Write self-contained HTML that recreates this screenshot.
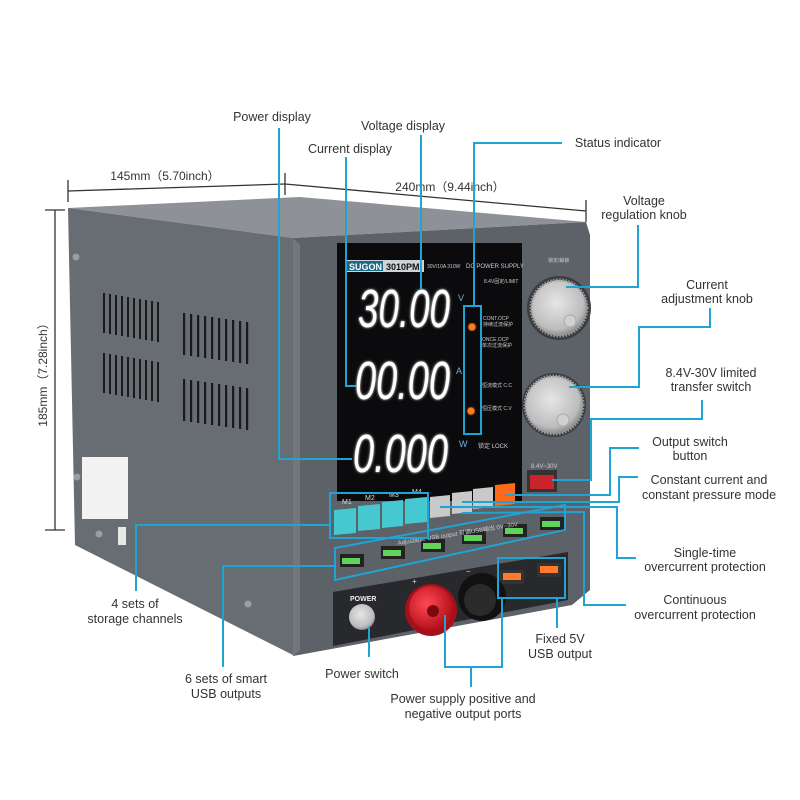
<!DOCTYPE html>
<html><head><meta charset="utf-8"><style>
html,body{margin:0;padding:0;background:#fff;}
svg{display:block;}
.t{font-family:"Liberation Sans","DejaVu Sans",sans-serif;font-size:12.5px;fill:#333;text-anchor:middle;}
.c{stroke:#1fa4d4;stroke-width:2;fill:none;}
.d{font-family:"Liberation Sans",sans-serif;font-style:italic;fill:#fff;font-weight:normal;}
.s{font-family:"Liberation Sans",sans-serif;fill:#ccc;font-size:5px;}
</style></head><body>
<svg width="800" height="800" viewBox="0 0 800 800" xmlns="http://www.w3.org/2000/svg">
<defs>
<filter id="g"><feGaussianBlur stdDeviation="1.2" result="b"/><feMerge><feMergeNode in="b"/><feMergeNode in="SourceGraphic"/></feMerge></filter>
<radialGradient id="kn" cx="0.45" cy="0.4" r="0.6"><stop offset="0" stop-color="#e6e6e6"/><stop offset="0.8" stop-color="#bdbdbd"/><stop offset="1" stop-color="#8a8a8a"/></radialGradient>
<radialGradient id="rd" cx="0.4" cy="0.4" r="0.6"><stop offset="0" stop-color="#ff4a55"/><stop offset="1" stop-color="#b5101c"/></radialGradient>
</defs>
<g stroke="#333" stroke-width="1.3" fill="none">
<line x1="68" y1="191" x2="285" y2="184"/><line x1="68" y1="180" x2="68" y2="202"/><line x1="285" y1="173" x2="285" y2="195"/>
<line x1="285" y1="184" x2="586" y2="211"/><line x1="586" y1="200" x2="586" y2="222"/>
<line x1="55" y1="210" x2="55" y2="530"/><line x1="45" y1="210" x2="65" y2="210"/><line x1="45" y1="530" x2="65" y2="530"/>
</g>
<text class="t" x="165" y="180" style="font-size:12px">145mm（5.70inch）</text>
<text class="t" x="450" y="191" style="font-size:12px">240mm（9.44inch）</text>
<text class="t" x="0" y="0" transform="translate(47,372) rotate(-90)" style="font-size:12px">185mm（7.28inch）</text>

<polygon points="68,208 300,197 586,222 293,238" fill="#8e9298"/>
<polygon points="68,208 293,238 293,655 75,545" fill="#686c73"/>
<polygon points="293,238 586,222 590,235 590,590 572,605 293,656" fill="#5d6168"/>
<polygon points="293,238 300,245 300,650 293,656" fill="#73777d"/>
<g fill="#1a1a1a">
<g id="v1"><rect x="103" y="293" width="2" height="40"/><rect x="109" y="294" width="2" height="40"/><rect x="115" y="295" width="2" height="40"/><rect x="121" y="296" width="2" height="40"/><rect x="127" y="297" width="2" height="40"/><rect x="133" y="298" width="2" height="40"/><rect x="139" y="299" width="2" height="40"/><rect x="145" y="300" width="2" height="40"/><rect x="151" y="301" width="2" height="40"/><rect x="157" y="302" width="2" height="40"/></g>
<use href="#v1" y="60"/>
<g id="v2"><rect x="183" y="313" width="2.2" height="42"/><rect x="190" y="314" width="2.2" height="42"/><rect x="197" y="315" width="2.2" height="42"/><rect x="204" y="316" width="2.2" height="42"/><rect x="211" y="317" width="2.2" height="42"/><rect x="218" y="318" width="2.2" height="42"/><rect x="225" y="319" width="2.2" height="42"/><rect x="232" y="320" width="2.2" height="42"/><rect x="239" y="321" width="2.2" height="42"/><rect x="246" y="322" width="2.2" height="42"/></g>
<use href="#v2" y="66"/>
</g>
<rect x="82" y="457" width="46" height="62" fill="#f2f2f2"/>
<rect x="118" y="527" width="8" height="18" fill="#e8e8e8"/>
<g fill="#9a9da2"><circle cx="76" cy="257" r="3.5"/><circle cx="77" cy="477" r="3.5"/><circle cx="99" cy="534" r="3.5"/><circle cx="248" cy="604" r="3.5"/></g>

<rect x="337" y="243" width="185" height="258" fill="#0b0b0d"/>
<rect x="346" y="260" width="78" height="12" fill="#cfd3d6"/>
<rect x="347" y="261" width="36" height="10" fill="#1d6a86"/>
<text x="349" y="270" style="font-family:'Liberation Sans';font-size:9px;fill:#fff;font-weight:bold">SUGON</text>
<text x="386" y="270" style="font-family:'Liberation Sans';font-size:9px;fill:#111;font-weight:bold">3010PM</text>
<text class="s" x="427" y="268">30V/10A 310W</text>
<text class="s" x="466" y="268" style="font-size:6px">DC POWER SUPPLY</text>
<text class="s" x="484" y="283">8.4V固定/LIMIT</text>
<g filter="url(#g)">
<text class="d" x="358" y="327" style="font-size:54px" textLength="92" lengthAdjust="spacingAndGlyphs">30.00</text>
<text class="d" x="355" y="399" style="font-size:54px" textLength="95" lengthAdjust="spacingAndGlyphs">00.00</text>
<text class="d" x="353" y="472" style="font-size:54px" textLength="95" lengthAdjust="spacingAndGlyphs">0.000</text>
</g>
<text x="458" y="301" style="font-family:'Liberation Sans';font-size:9px;fill:#6fb0e0">V</text>
<text x="456" y="374" style="font-family:'Liberation Sans';font-size:9px;fill:#6fb0e0">A</text>
<text x="459" y="447" style="font-family:'Liberation Sans';font-size:9px;fill:#6fb0e0">W</text>
<circle cx="472" cy="327" r="3.5" fill="#ff7a1a" filter="url(#g)"/>
<circle cx="471" cy="411" r="3.5" fill="#ff7a1a" filter="url(#g)"/>
<text class="s" x="483" y="320">CONT.OCP</text><text class="s" x="483" y="326">持续过流保护</text>
<text class="s" x="482" y="341">ONCE.OCP</text><text class="s" x="482" y="347">单次过流保护</text>
<text class="s" x="482" y="387">恒流模式 C.C</text>
<text class="s" x="482" y="410">恒压模式 C.V</text>
<text class="s" x="478" y="448" style="font-size:6px">锁定 LOCK</text>

<circle cx="559" cy="308" r="32" fill="#3a3d42"/>
<circle cx="559" cy="308" r="28" fill="url(#kn)" stroke="#999" stroke-width="3" stroke-dasharray="1.5 1.5"/>
<circle cx="570" cy="321" r="6" fill="#d0d0d0" stroke="#aaa"/>
<circle cx="554" cy="405" r="32" fill="#3a3d42"/>
<circle cx="554" cy="405" r="29" fill="url(#kn)" stroke="#999" stroke-width="3" stroke-dasharray="1.5 1.5"/>
<circle cx="563" cy="420" r="6" fill="#d0d0d0" stroke="#aaa"/>
<text class="s" x="548" y="262">锁定/解锁</text>
<rect x="527" y="470" width="30" height="22" fill="#333"/>
<rect x="530" y="475" width="24" height="14" fill="#c8242c"/>
<text class="s" x="531" y="468" style="font-size:6px">8.4V~30V</text>

<text class="s" x="342" y="504" style="font-size:7px;fill:#ddd">M1</text>
<text class="s" x="365" y="500" style="font-size:7px;fill:#ddd">M2</text>
<text class="s" x="389" y="497" style="font-size:7px;fill:#ddd">M3</text>
<text class="s" x="412" y="494" style="font-size:7px;fill:#ddd">M4</text>
<polygon points="334,510 356,508 356,533 334,535" fill="#45c8cf"/>
<polygon points="358,506 380,504 380,529 358,531" fill="#45c8cf"/>
<polygon points="382,502 403,500 403,526 382,528" fill="#45c8cf"/>
<polygon points="405,499 427,497 427,522 405,524" fill="#45c8cf"/>
<polygon points="430,497 450,495 450,516 430,518" fill="#c9c9c9"/>
<polygon points="452,493 472,491 472,512 452,514" fill="#c9c9c9"/>
<polygon points="473,489 493,487 493,507 473,509" fill="#c9c9c9"/>
<polygon points="495,485 515,483 515,504 495,506" fill="#ff6a1a"/>
<g fill="#222">
<rect x="340" y="554" width="24" height="13"/><rect x="381" y="546" width="24" height="13"/><rect x="421" y="539" width="24" height="13"/><rect x="462" y="531" width="24" height="13"/><rect x="503" y="524" width="24" height="13"/><rect x="540" y="517" width="24" height="13"/>
</g>
<g fill="#5fd35a">
<rect x="342" y="558" width="18" height="6"/><rect x="383" y="550" width="18" height="6"/><rect x="423" y="543" width="18" height="6"/><rect x="464" y="535" width="18" height="6"/><rect x="505" y="528" width="18" height="6"/><rect x="542" y="521" width="18" height="6"/>
</g>
<text class="s" x="0" y="0" transform="translate(398,545) rotate(-9)" style="font-size:6px">Adjustable USB output 可调USB输出 0V~30V</text>
<polygon points="333,592 568,552 568,600 333,646" fill="#27292c"/>
<rect x="500" y="570" width="24" height="14" fill="#333"/><rect x="503" y="573" width="18" height="7" fill="#ff7a2a"/>
<rect x="537" y="563" width="24" height="14" fill="#333"/><rect x="540" y="566" width="18" height="7" fill="#ff7a2a"/>
<circle cx="362" cy="617" r="13" fill="url(#kn)"/>
<text x="350" y="601" style="font-family:'Liberation Sans';font-size:7px;fill:#eee;font-weight:bold">POWER</text>
<circle cx="482" cy="597" r="24" fill="#111"/><circle cx="480" cy="600" r="16" fill="#2a2a2a"/>
<circle cx="431" cy="610" r="26" fill="#a5101a"/><circle cx="431" cy="608" r="22" fill="url(#rd)"/><circle cx="433" cy="611" r="6" fill="#7a0a10"/>
<text x="412" y="584" style="font-family:'Liberation Sans';font-size:8px;fill:#ddd">+</text>
<text x="466" y="574" style="font-family:'Liberation Sans';font-size:8px;fill:#ddd">−</text>

<g class="c">
<polyline points="279,128 279,459 352,459"/>
<polyline points="346,157 346,386 356,386"/>
<polyline points="421,135 421,289"/>
<polyline points="562,143 474,143 474,306"/>
<rect x="464" y="306" width="17" height="128"/>
<polyline points="638,225 638,287 566,287"/>
<polyline points="710,308 710,327 639,327 639,387 569,387"/>
<polyline points="702,400 702,419 591,419 591,480 552,480"/>
<polyline points="639,448 610,448 610,495 505,495"/>
<polyline points="638,477 619,477 619,502 462,502"/>
<polyline points="636,558 617,558 617,507 440,507"/>
<polyline points="626,605 584,605 584,512 462,513"/>
<rect x="330" y="493" width="98" height="45"/>
<polygon points="335,548 565,505 565,530 335,580"/>
<polyline points="330,525 136,525 136,591"/>
<polyline points="335,566 223,566 223,667"/>
<rect x="498" y="558" width="67" height="40"/>
<polyline points="557,598 557,628"/>
<polyline points="369,628 369,657"/>
<polyline points="445,615 445,667 502,667 502,598"/>
<polyline points="471,667 471,687"/>
</g>

<text class="t" x="272" y="121">Power display</text>
<text class="t" x="403" y="130">Voltage display</text>
<text class="t" x="350" y="153">Current display</text>
<text class="t" x="618" y="147">Status indicator</text>
<text class="t" x="644" y="205">Voltage</text><text class="t" x="644" y="219">regulation knob</text>
<text class="t" x="707" y="289">Current</text><text class="t" x="707" y="303">adjustment knob</text>
<text class="t" x="711" y="377">8.4V-30V limited</text><text class="t" x="711" y="391">transfer switch</text>
<text class="t" x="690" y="446">Output switch</text><text class="t" x="690" y="460">button</text>
<text class="t" x="709" y="484">Constant current and</text><text class="t" x="709" y="499">constant pressure mode</text>
<text class="t" x="705" y="557">Single-time</text><text class="t" x="705" y="571">overcurrent protection</text>
<text class="t" x="695" y="604">Continuous</text><text class="t" x="695" y="619">overcurrent protection</text>
<text class="t" x="560" y="643">Fixed 5V</text><text class="t" x="560" y="658">USB output</text>
<text class="t" x="135" y="608">4 sets of</text><text class="t" x="135" y="623">storage channels</text>
<text class="t" x="226" y="683">6 sets of smart</text><text class="t" x="226" y="698">USB outputs</text>
<text class="t" x="362" y="678">Power switch</text>
<text class="t" x="463" y="703">Power supply positive and</text><text class="t" x="463" y="718">negative output ports</text>
</svg>
</body></html>
